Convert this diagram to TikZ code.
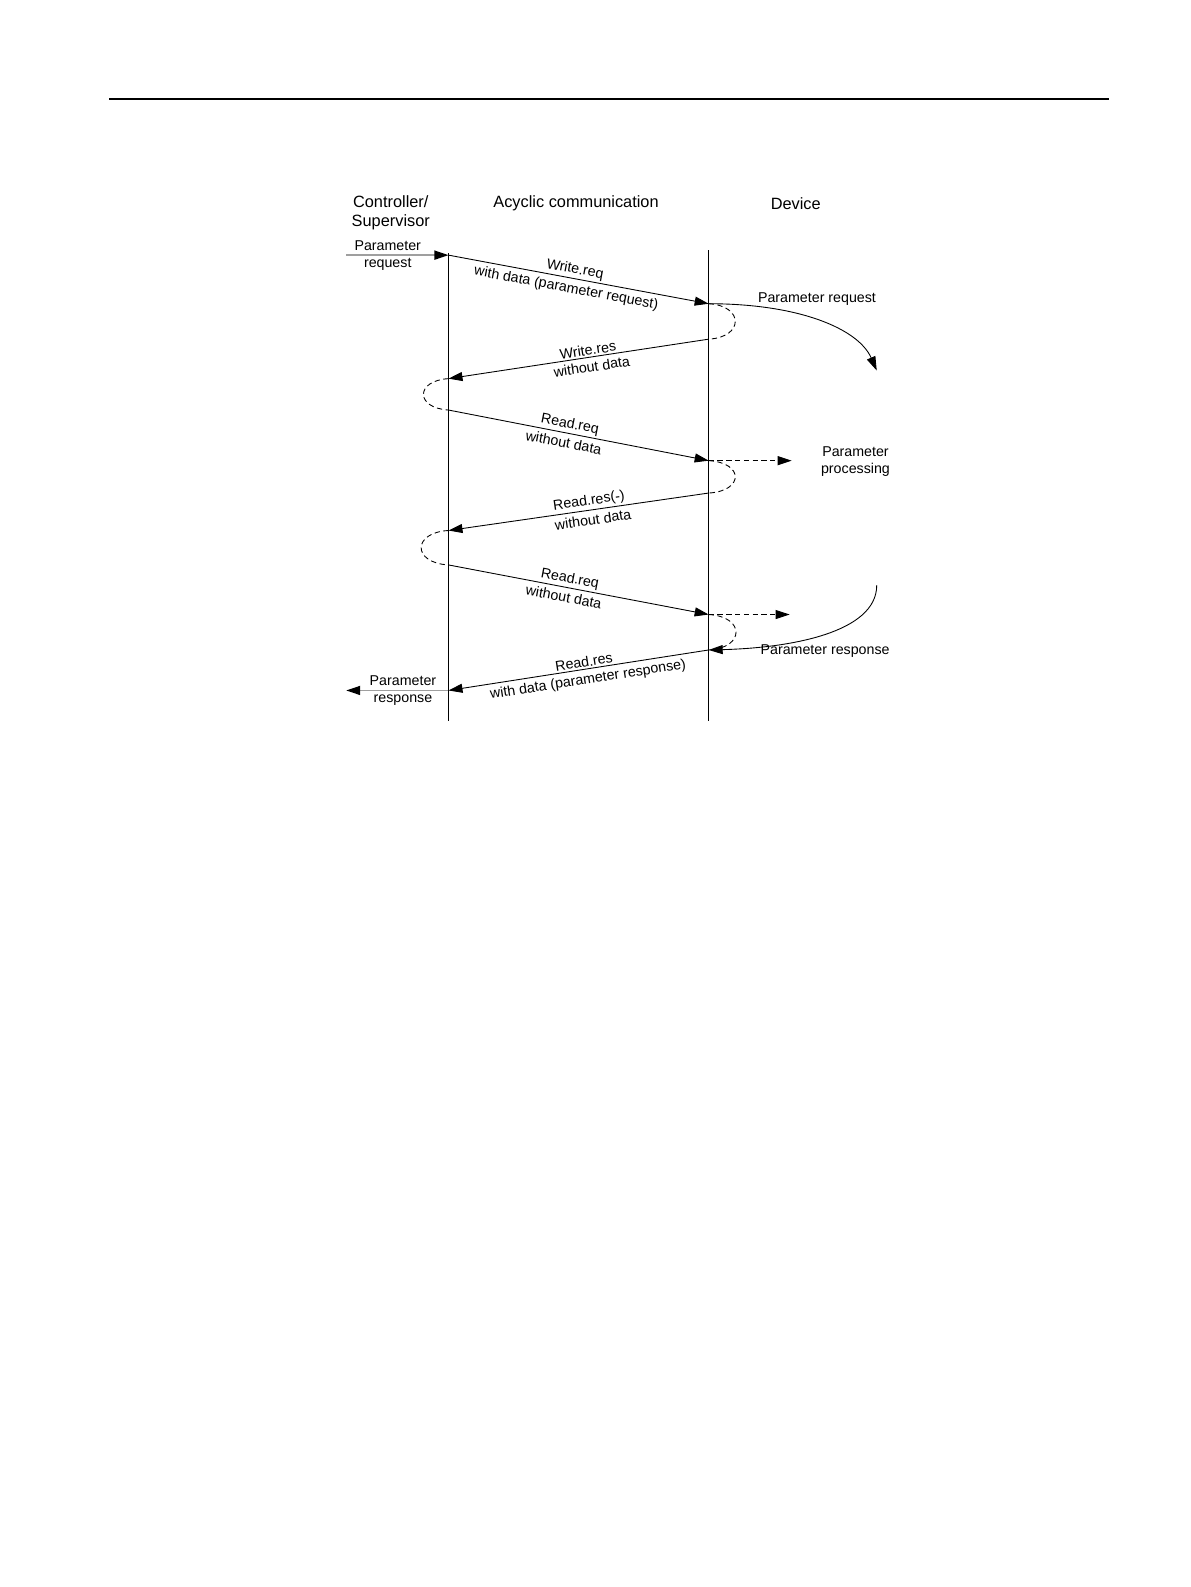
\documentclass[tikz,border=0pt]{standalone}
\usepackage{fontspec}
\setmainfont{Liberation Sans}
\usetikzlibrary{arrows.meta}
\tikzstyle{head} = [font=\fontsize{9.3}{10.9}\selectfont, align=center]
\tikzstyle{note} = [font=\fontsize{8.1}{9.7}\selectfont, align=center]
\tikzstyle{lifeline} = [line width=0.5pt]
\tikzstyle{msg} = [line width=0.5pt, -{Triangle[length=2.8mm, width=1.8mm]}]
\tikzstyle{ext} = [line width=0.9pt, draw=gray!75, -{Triangle[length=2.8mm, width=1.8mm, color=black]}]
\tikzstyle{wait} = [line width=0.5pt, dash pattern=on 3pt off 2pt]
\tikzstyle{flow} = [line width=0.5pt, -{Triangle[length=2.8mm, width=1.8mm]}]
\tikzstyle{lblup} = [note, sloped, above, inner sep=1pt]
\tikzstyle{lbldown} = [note, sloped, below, inner sep=2.3pt]

\begin{document}
\begin{tikzpicture}[x=0.020242cm, y=-0.020242cm]
    \useasboundingbox (0,0) rectangle (23.82cm,-31.74cm);
    \draw [line width=1.1pt] (108,98) -- (1095,98);

    % headings
    \node (ctrl) [head] at (386,210) {Controller/\\Supervisor};
    \node (acyc) [head] at (569,201) {Acyclic communication};
    \node (dev) [head] at (786,201) {Device};

    % lifelines
    \coordinate (ctop) at (443,250);
    \coordinate (cbot) at (443,712);
    \coordinate (dtop) at (700,247);
    \coordinate (dbot) at (700,712);
    \draw [lifeline] (ctop) -- (cbot);
    \draw [lifeline] (dtop) -- (dbot);

    % message points
    \coordinate (c1) at (443,252);
    \coordinate (d1) at (700,300);
    \coordinate (d2) at (700,335);
    \coordinate (c2) at (443,374);
    \coordinate (c3) at (443,405);
    \coordinate (d3) at (700,455);
    \coordinate (d4) at (700,487);
    \coordinate (c4) at (443,524);
    \coordinate (c5) at (443,558);
    \coordinate (d5) at (700,607);
    \coordinate (d6) at (700,642);
    \coordinate (c6) at (443,682);

    % outside ends
    \coordinate (inreq) at (342,252);
    \coordinate (outres) at (342,682);
    \coordinate (proc1) at (782,455);
    \coordinate (proc2) at (780,607);
    \coordinate (reqend) at (866,366);
    \coordinate (resstart) at (866,578);

    \node (preq) [note] at (383,252) {Parameter\\request};
    \node (pres) [note] at (398,682) {Parameter\\response};
    \node (devreq) [note] at (807,295) {Parameter request};
    \node (devproc) [note] at (845,456) {Parameter\\processing};
    \node (devres) [note] at (815,643) {Parameter response};

    \draw [ext] (inreq) -- (c1);
    \draw [msg] (c1) -- node[lblup, pos=0.48] {Write.req}
        node[lbldown, pos=0.46] {with data (parameter request)} (d1);
    \draw [wait] (d1) .. controls (735,302) and (735,333) .. (d2);
    \draw [msg] (d2) -- node[lblup, pos=0.46] {Write.res}
        node[lbldown, pos=0.455] {without data} (c2);
    \draw [wait] (c2) .. controls (410,376) and (410,403) .. (c3);
    \draw [msg] (c3) -- node[lblup, pos=0.46] {Read.req}
        node[lbldown, pos=0.45] {without data} (d3);
    \draw [wait, -{Triangle[length=2.8mm, width=1.8mm]}] (d3) -- (proc1);
    \draw [wait] (d3) .. controls (735,457) and (735,485) .. (d4);
    \draw [msg] (d4) -- node[lblup, pos=0.455] {Read.res(-)}
        node[lbldown, pos=0.45] {without data} (c4);
    \draw [wait] (c4) .. controls (407,526) and (407,556) .. (c5);
    \draw [msg] (c5) -- node[lblup, pos=0.46] {Read.req}
        node[lbldown, pos=0.45] {without data} (d5);
    \draw [wait, -{Triangle[length=2.8mm, width=1.8mm]}] (d5) -- (proc2);
    \draw [wait] (d5) .. controls (736,609) and (736,640) .. (d6);
    \draw [msg] (d6) -- node[lblup, pos=0.475] {Read.res}
        node[lbldown, pos=0.47] {with data (parameter response)} (c6);
    \draw [ext] (c6) -- (outres);

    % device side
    \draw [flow] (d1) .. controls (790,300) and (848,325) .. (reqend);
    \draw [flow] (resstart) .. controls (866,625) and (780,640) .. (d6);
\end{tikzpicture}
\end{document}
